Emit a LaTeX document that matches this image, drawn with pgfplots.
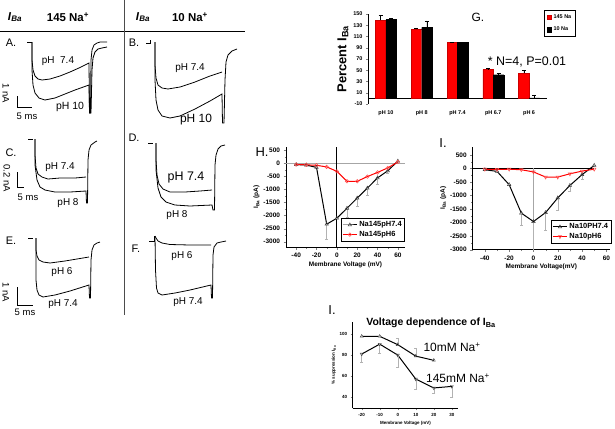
\documentclass[border=0pt]{standalone}
\usepackage{pgfplots}
\pgfplotsset{compat=1.18}
\usepackage{fontspec}
\setmainfont{Liberation Sans}
\newcommand{\fs}[1]{\fontsize{#1}{#1}\selectfont}
\begin{document}
\begin{tikzpicture}
\path[use as bounding box] (0,0) rectangle (615bp,-429bp);

% ---------- current traces, pixel grid ----------
\begin{axis}[at={(0,0)}, anchor=north west, scale only axis,
  width=615bp, height=429bp, xmin=0, xmax=615, ymin=0, ymax=429,
  y dir=reverse, hide axis, clip=false]
\draw[line width=0.8bp] (axis cs:0,31) -- (axis cs:245,31);
\draw[line width=0.8bp, black!70] (axis cs:124,0) -- (axis cs:124,315);
\node[font=\fs{11.5}\bfseries] at (axis cs:15,17) {\textit{I}\textsubscript{\textit{Ba}}};
\node[font=\fs{11.5}\bfseries] at (axis cs:68,17) {145 Na\textsuperscript{+}};
\node[font=\fs{11.5}\bfseries] at (axis cs:143,17) {\textit{I}\textsubscript{\textit{Ba}}};
\node[font=\fs{11.5}\bfseries] at (axis cs:190,17) {10 Na\textsuperscript{+}};

% A
\addplot[black, line width=0.8bp] coordinates {(27,42) (32,42)};
\addplot[black, line width=0.8bp] coordinates {(32,42) (32,60) (33,70) (35,76) (38,79) (42,80) (50,79) (60,76) (70,72) (80,67.5) (89,63) (89.5,113) (90.5,113) (91,60) (92,50) (94,45) (97,43) (100,42) (107,42)};
\addplot[black, line width=0.8bp] coordinates {(32,42) (32,70) (33,85) (35,93) (39,98) (45,100) (55,98) (65,94) (75,90) (89,85) (89.5,113) (91,113) (92,70) (93,58) (95,52) (98,49) (102,48) (107,47)};
% B
\addplot[black, line width=0.8bp] coordinates {(150,40) (150,43) (146,43)};
\addplot[black, line width=0.8bp] coordinates {(155,42) (155,65) (156,78) (158,85) (162,88) (168,89) (180,87) (195,82) (210,76) (222,72)};
\addplot[black, line width=0.8bp] coordinates {(155,42) (155,80) (156,100) (158,110) (162,116) (170,118) (180,116) (195,109) (210,101) (222,94) (222.5,123) (224,123) (225,80) (226,62) (228,55) (232,51) (237,49)};
% C
\addplot[black, line width=0.8bp] coordinates {(28,139) (33,139)};
\addplot[black, line width=0.8bp] coordinates {(35,139) (35,155) (36,168) (38,174) (42,177) (48,179) (60,178) (75,178) (86,177)};
\addplot[black, line width=0.8bp] coordinates {(35,139) (35,165) (37,180) (40,187) (45,190) (55,192) (70,192) (86,191) (86.5,203) (87.5,203) (88,160) (89,150) (91,145) (95,142) (97,141)};
% D
\addplot[black, line width=0.8bp] coordinates {(148,143) (153,143)};
\addplot[black, line width=0.8bp] coordinates {(156,143) (156,160) (157,175) (159,184) (163,189) (170,192) (185,192) (200,191) (212,190)};
\addplot[black, line width=0.8bp] coordinates {(156,143) (156,170) (158,188) (161,197) (166,202) (175,205) (190,206) (212,205) (213,210) (214.5,210) (215,165) (216,155) (218,149) (221,146) (225,145)};
% E
\addplot[black, line width=0.8bp] coordinates {(28,238) (33,238)};
\addplot[black, line width=0.8bp] coordinates {(36,238) (36,250) (37,256) (39,260) (43,262) (50,263) (65,261) (80,258.5) (89,257)};
\addplot[black, line width=0.8bp] coordinates {(36,238) (36,280) (37,290) (39,295) (43,297) (55,295) (70,291) (89,285) (89.5,298) (90.5,298) (91,260) (92,250) (94,245) (97,243) (100,242)};
% F
\addplot[black, line width=0.8bp] coordinates {(149,241) (154,241) (154,236)};
\addplot[black, line width=0.8bp] coordinates {(155,236) (156,238) (158,241) (162,243) (170,244.5) (190,245) (211,245)};
\addplot[black, line width=0.8bp] coordinates {(155,236) (155.5,270) (156.5,288) (158,293) (162,295) (175,293) (190,290) (211,285) (211.5,298) (212.5,298) (213,255) (214,247) (217,243) (221,242) (226,241)};

% scale bars
\draw[line width=0.7bp] (axis cs:17,96) -- (axis cs:17,107) -- (axis cs:32,107);
\draw[line width=0.7bp] (axis cs:17,172) -- (axis cs:17,187) -- (axis cs:24,187);
\draw[line width=0.7bp] (axis cs:17,287) -- (axis cs:17,305) -- (axis cs:33,305);
\node[font=\fs{9.5}, rotate=-90] at (axis cs:6,93) {1 nA};
\node[font=\fs{9.5}] at (axis cs:27,116) {5 ms};
\node[font=\fs{9.5}, rotate=-90] at (axis cs:7,178) {0.2 nA};
\node[font=\fs{9.5}] at (axis cs:28,197) {5 ms};
\node[font=\fs{9.5}, rotate=-90] at (axis cs:6,292) {1 nA};
\node[font=\fs{9.5}] at (axis cs:25,312) {5 ms};

% panel letters and labels
\node[font=\fs{11}] at (axis cs:11,43) {A.};
\node[font=\fs{11}] at (axis cs:134,43) {B.};
\node[font=\fs{11}] at (axis cs:11,153) {C.};
\node[font=\fs{11}] at (axis cs:134,138) {D.};
\node[font=\fs{11}] at (axis cs:11,241) {E.};
\node[font=\fs{11}] at (axis cs:136,249) {F.};
\node[font=\fs{10}] at (axis cs:58,61) {pH~~7.4};
\node[font=\fs{10.5}] at (axis cs:70,107) {pH 10};
\node[font=\fs{10}] at (axis cs:190,68) {pH 7.4};
\node[font=\fs{12}] at (axis cs:196,120) {pH 10};
\node[font=\fs{10}] at (axis cs:60,167) {pH 7.4};
\node[font=\fs{10}] at (axis cs:68,203) {pH 8};
\node[font=\fs{12.5}] at (axis cs:186,177) {pH 7.4};
\node[font=\fs{10}] at (axis cs:177,215) {pH 8};
\node[font=\fs{10}] at (axis cs:62,272) {pH 6};
\node[font=\fs{10}] at (axis cs:63,304) {pH 7.4};
\node[font=\fs{10}] at (axis cs:182,256) {pH 6};
\node[font=\fs{10}] at (axis cs:188,302) {pH 7.4};

\node[font=\fs{12}] at (axis cs:478,17) {G.};
\node[font=\fs{12.5}] at (axis cs:527,62) {* N=4, P=0.01};
\node[font=\fs{13}] at (axis cs:262,152) {H.};
\node[font=\fs{13}] at (axis cs:443,143) {I.};
\node[font=\fs{13}] at (axis cs:332,310) {I.};
\node[font=\fs{10.5}\bfseries] at (axis cs:431,323) {Voltage dependence of I\textsubscript{Ba}};
\node[font=\fs{12}] at (axis cs:452,347) {10mM Na\textsuperscript{+}};
\node[font=\fs{12}] at (axis cs:458,378) {145mM Na\textsuperscript{+}};
\end{axis}

% ---------- G: bar chart ----------
\begin{axis}[at={(368bp,-14bp)}, anchor=north west, scale only axis,
  width=179bp, height=90bp, xmin=-0.5, xmax=4.5, ymin=-10, ymax=150,
  ybar=0pt, bar width=10.5bp,
  axis y line=left, axis x line=middle, axis line style={-, line width=0.5bp},
  xtick={0,1,2,3,4}, xticklabels={pH 10, pH 8, pH 7.4, pH 6.7, pH 6},
  major x tick style={draw=none},
  extra x ticks={-0.5,0.5,1.5,2.5,3.5,4.5}, extra x tick labels={},
  extra x tick style={major tick length=2bp, tick align=outside, tick style={black, line width=0.5bp}},
  xticklabel style={font=\fs{5.5}\bfseries, yshift=-7bp},
  ytick={-10,10,...,150}, tick align=outside, major tick length=2bp,
  yticklabel style={font=\fs{5.5}\bfseries},
  ylabel={Percent I\textsubscript{Ba}}, ylabel style={font=\fs{13}\bfseries, yshift=-2bp},
  /pgf/number format/assume math mode=true,
  legend style={at={(0.985,1.04)}, anchor=north west, font=\fs{5.5}\bfseries,
    draw=black, line width=0.6bp, inner sep=2bp, row sep=3bp, legend cell align=left},
  legend image code/.code={\fill[#1] (0bp,-2.2bp) rectangle (4.4bp,2.2bp);},
  error bars/error bar style={black, line width=0.5bp},
  error bars/error mark options={rotate=90, mark size=2bp, black, line width=0.5bp}]
\addplot[fill=red, draw=red!80!black, error bars/.cd, y dir=plus, y explicit]
  coordinates {(0,139) +- (0,8) (1,123) +- (0,2) (2,100) +- (0,0) (3,51) +- (0,2) (4,45) +- (0,5)};
\addlegendentry{145 Na}
\addplot[fill=black, draw=black, error bars/.cd, y dir=plus, y explicit]
  coordinates {(0,140) +- (0,2) (1,126) +- (0,12) (2,100) +- (0,0) (3,42) +- (0,3) (4,1) +- (0,5)};
\addlegendentry{10 Na}
\end{axis}

% ---------- H ----------
\begin{axis}[at={(286bp,-147bp)}, anchor=north west, scale only axis,
  width=119bp, height=100bp, xmin=-50, xmax=67, ymin=-3200, ymax=620,
  axis x line=bottom, axis y line=left, axis line style={-, line width=0.6bp},
  tick align=outside, major tick length=2.5bp, minor tick length=1.5bp,
  xtick={-40,-20,...,60}, ytick={-3000,-2500,...,500},
  minor x tick num=1, minor y tick num=1,
  ticklabel style={font=\fs{6.5}\bfseries},
  /pgf/number format/1000 sep={}, /pgf/number format/assume math mode=true,
  xlabel={Membrane Voltage (mV)}, xlabel style={font=\fs{6.5}\bfseries, yshift=3bp},
  ylabel={I\textsubscript{Ba} (pA)}, ylabel style={font=\fs{6.5}\bfseries, yshift=-3bp},
  legend style={at={(1.0,0.057)}, anchor=south east, font=\fs{7.5}\bfseries,
    draw=black, line width=0.6bp, inner sep=1bp, row sep=-1bp, legend cell align=left},
  legend image code/.code={\draw[mark repeat=2, mark phase=2, #1] plot coordinates {(0bp,0bp) (7bp,0bp) (14bp,0bp)};},
  error bars/error bar style={gray!60, line width=0.5bp},
  error bars/error mark options={rotate=90, mark size=1.5bp, gray!60}]
\addplot[gray!70, line width=1.3bp, forget plot] coordinates {(-50,0) (67,0)};
\addplot[black, line width=0.8bp, forget plot] coordinates {(0,620) (0,-3200)};
\addplot[black, line width=1bp, mark=triangle, mark size=2bp, mark options={fill=white, line width=0.5bp, gray!50!black},
  error bars/.cd, y dir=minus, y explicit]
  coordinates {(-40,-50) +- (0,0) (-30,-70) +- (0,0) (-20,-160) +- (0,0) (-10,-2330) +- (0,580)
   (0,-2100) +- (0,0) (10,-1720) +- (0,360) (20,-1330) +- (0,300) (30,-950) +- (0,290)
   (40,-560) +- (0,230) (50,-290) +- (0,100) (60,80) +- (0,0)};
\addlegendentry{Na145pH7.4}
\addplot[red, line width=1bp, mark=o, mark size=1.8bp, mark options={fill=white, line width=0.5bp, red!70}]
  coordinates {(-40,-50) (-30,-60) (-20,-80) (-10,-140) (0,-310) (10,-690) (20,-690)
   (30,-510) (40,-350) (50,-180) (60,50)};
\addlegendentry{Na145pH6}
\end{axis}

% ---------- I (IV, 10 Na) ----------
\begin{axis}[at={(472.7bp,-146.7bp)}, anchor=north west, scale only axis,
  width=137.3bp, height=103bp, xmin=-50, xmax=63, ymin=-3000, ymax=800,
  axis x line=bottom, axis y line=left, axis line style={-, line width=0.6bp},
  tick align=outside, major tick length=2.5bp, minor tick length=1.5bp,
  xtick={-40,-20,...,60}, ytick={-3000,-2500,...,500},
  minor x tick num=1, minor y tick num=1,
  ticklabel style={font=\fs{6.5}\bfseries},
  /pgf/number format/1000 sep={}, /pgf/number format/assume math mode=true,
  xlabel={Membrane Voltage(mV)}, xlabel style={font=\fs{6.5}\bfseries, yshift=3bp},
  ylabel={I\textsubscript{Ba} (pA)}, ylabel style={font=\fs{6.5}\bfseries, yshift=-3bp},
  legend style={at={(1.01,0.062)}, anchor=south east, font=\fs{7.5}\bfseries,
    draw=black, line width=0.6bp, inner sep=1bp, row sep=-1bp, legend cell align=left},
  legend image code/.code={\draw[mark repeat=2, mark phase=2, #1] plot coordinates {(0bp,0bp) (7bp,0bp) (14bp,0bp)};},
  error bars/error bar style={gray!60, line width=0.5bp},
  error bars/error mark options={rotate=90, mark size=1.5bp, gray!60}]
\addplot[black, line width=1bp, forget plot] coordinates {(-50,0) (50,0)};
\addplot[gray!70, line width=1.2bp, forget plot] coordinates {(0,0) (0,-3000)};
\addplot[black, line width=1bp, mark=triangle, mark size=2bp, mark options={fill=white, line width=0.5bp, gray!50!black},
  error bars/.cd, y dir=minus, y explicit]
  coordinates {(-40,-50) +- (0,0) (-30,-110) +- (0,0) (-20,-600) +- (0,0) (-10,-1650) +- (0,430)
   (0,-1960) +- (0,1040) (10,-1630) +- (0,640) (20,-1090) +- (0,440) (30,-630) +- (0,220)
   (40,-230) +- (0,170) (50,110) +- (0,0)};
\addlegendentry{Na10PH7.4}
\addplot[red, line width=1bp, mark=triangle, mark size=2bp, mark options={rotate=180, fill=white, line width=0.5bp, red!70}]
  coordinates {(-40,-30) (-30,-40) (-20,-30) (-10,-50) (0,-130) (10,-320) (20,-320)
   (30,-200) (40,-100) (50,-30)};
\addlegendentry{Na10pH6}
\end{axis}

% ---------- I (voltage dependence) ----------
\begin{axis}[at={(352.7bp,-321.7bp)}, anchor=north west, scale only axis,
  width=105.6bp, height=86.6bp, xmin=-25, xmax=33.6, ymin=29, ymax=112,
  axis x line=bottom, axis y line=left, axis line style={-, line width=0.5bp},
  tick align=outside, major tick length=2bp, minor tick length=1.2bp,
  xtick={-20,-10,...,30}, ytick={40,60,...,100},
  minor x tick num=1, minor y tick num=1,
  ticklabel style={font=\fs{4.5}\bfseries},
  /pgf/number format/assume math mode=true,
  xlabel={Membrane Voltage (mV)}, xlabel style={font=\fs{4.5}\bfseries, yshift=3bp},
  ylabel={\% suppression I\textsubscript{Ba}}, ylabel style={font=\fs{4.5}\bfseries, yshift=-3bp},
  error bars/error bar style={gray!60, line width=0.5bp},
  error bars/error mark options={rotate=90, mark size=1.5bp, gray!60}]
\addplot[black, line width=1bp, mark=triangle, mark size=1.8bp, mark options={fill=white, line width=0.4bp, gray!50!black},
  error bars/.cd, y dir=plus, y explicit]
  coordinates {(-20,98) +- (0,0) (-10,98) +- (0,0) (0,90) +- (0,6) (10,79) +- (0,8) (20,75) +- (0,1)};
\addplot[black, line width=1bp, mark=triangle, mark size=1.8bp, mark options={rotate=180, fill=white, line width=0.4bp, gray!50!black},
  error bars/.cd, y dir=minus, y explicit]
  coordinates {(-20,81) +- (0,8) (-10,90.5) +- (0,9) (0,80) +- (0,11.5) (10,57) +- (0,10) (20,48.5) +- (0,5) (30,50) +- (0,10)};
\end{axis}
\end{tikzpicture}
\end{document}
